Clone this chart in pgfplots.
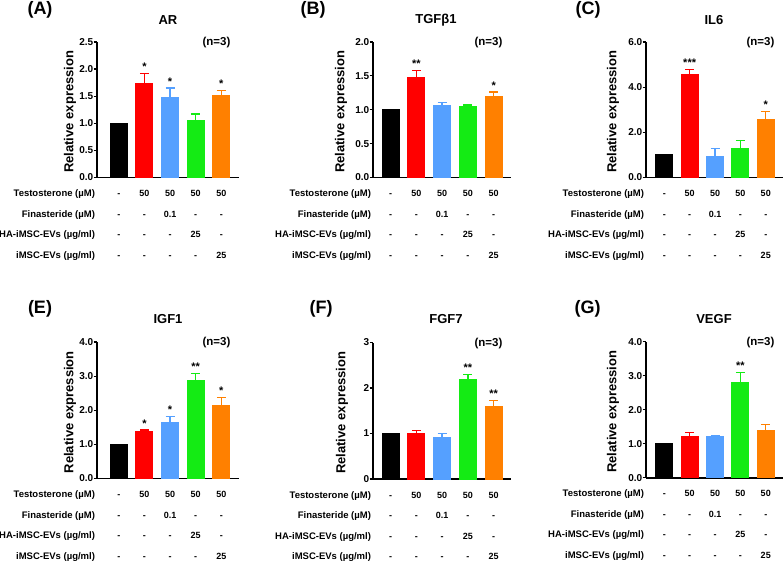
\documentclass[border=0pt]{standalone}
\usepackage{fontspec}
\setmainfont{Liberation Sans}
\usepackage{pgfplots}
\pgfplotsset{compat=1.18}
\definecolor{cK}{RGB}{0,0,0}
\definecolor{cR}{RGB}{255,0,0}
\definecolor{cB}{RGB}{85,160,255}
\definecolor{cG}{RGB}{20,235,20}
\definecolor{cO}{RGB}{255,128,0}
\newcommand{\fs}[1]{\fontsize{#1}{#1}\selectfont\bfseries}
\pgfplotsset{
  panel/.style={
    scale only axis, anchor=south west,
    axis x line*=bottom, axis y line*=left,
    axis line style={-, line width=1.7pt},
    xtick=\empty, ymin=0, clip=false,
    ytick style={line width=1.2pt, black}, tick align=outside, major tick length=3.5pt,
    tick label style={font=\fs{10}},
    yticklabel style={xshift=1.5pt, inner xsep=1.5pt, /pgf/number format/.cd, fixed, fixed zerofill, precision=1, assume math mode=true},
  }
}
\newcommand{\mybar}[4]{\addplot[ybar, bar width=17pt, fill=#1, draw=#1, line width=0pt,
  error bars/.cd, y dir=plus, y explicit,
  error bar style={line width=1.3pt, draw=#1},
  error mark options={line width=1.3pt, draw=#1, mark size=4.5pt, rotate=90}]
  coordinates {(#2,#3) +- (0,#4)};}
\newcommand{\condrow}[7]{%
  \node[font=\fs{9.5}, anchor=base east] at (rel axis cs:0,0) [yshift=#1, xshift=1.5pt] {#2};
  \node[font=\fs{9}, anchor=base] at (axis cs:0,0) [yshift=#1] {#3};
  \node[font=\fs{9}, anchor=base] at (axis cs:1,0) [yshift=#1] {#4};
  \node[font=\fs{9}, anchor=base] at (axis cs:2,0) [yshift=#1] {#5};
  \node[font=\fs{9}, anchor=base] at (axis cs:3,0) [yshift=#1] {#6};
  \node[font=\fs{9}, anchor=base] at (axis cs:4,0) [yshift=#1] {#7};}
\newcommand{\condtable}{%
  \condrow{-19pt}{Testosterone (µM)}{-}{50}{50}{50}{50}
  \condrow{-39.6pt}{Finasteride (µM)}{-}{-}{0.1}{-}{-}
  \condrow{-60.2pt}{HA-iMSC-EVs (µg/ml)}{-}{-}{-}{25}{-}
  \condrow{-80.8pt}{iMSC-EVs (µg/ml)}{-}{-}{-}{-}{25}}
\newcommand{\sig}[3]{\node[font=\fs{11}, anchor=base] at (axis cs:#1,#2) [yshift=3pt] {#3};}
\newcommand{\ylab}[1]{\node[rotate=90, font=\fs{13}] at ([xshift=#1, yshift=-2pt]rel axis cs:0,0.5) {Relative expression};}
\newcommand{\nthree}{\node[font=\fs{11.5}] at (rel axis cs:1,1) [xshift=-22.5pt, yshift=-1pt] {(n=3)};}
\begin{document}
\begin{tikzpicture}
\path[use as bounding box] (0pt,0pt) rectangle (784pt,562pt);

% (A) AR
\begin{axis}[panel, at={(97pt,384.5pt)}, width=142pt, height=135.5pt,
  xmin=-0.85, xmax=4.69, ymax=2.5, ytick={0,0.5,1,1.5,2,2.5}]
\mybar{cK}{0}{1.0}{0}
\mybar{cR}{1}{1.74}{0.18}
\mybar{cB}{2}{1.47}{0.18}
\mybar{cG}{3}{1.05}{0.12}
\mybar{cO}{4}{1.51}{0.10}
\sig{1}{1.92}{*}
\sig{2}{1.65}{*}
\sig{4}{1.61}{*}
\ylab{-27pt}
\nthree
\condtable
\end{axis}

% (B) TGFb1
\begin{axis}[panel, at={(373pt,384.5pt)}, width=138pt, height=135.5pt,
  xmin=-0.68, xmax=4.67, ymax=2.0, ytick={0,0.5,1,1.5,2}]
\mybar{cK}{0}{1.0}{0}
\mybar{cR}{1}{1.48}{0.095}
\mybar{cB}{2}{1.07}{0.04}
\mybar{cG}{3}{1.05}{0.02}
\mybar{cO}{4}{1.19}{0.07}
\sig{1}{1.575}{**}
\sig{4}{1.26}{*}
\ylab{-32pt}
\nthree
\condtable
\end{axis}

% (C) IL6
\begin{axis}[panel, at={(646pt,384.5pt)}, width=137pt, height=135.5pt,
  xmin=-0.72, xmax=4.68, ymax=6.0, ytick={0,2,4,6}]
\mybar{cK}{0}{1.0}{0}
\mybar{cR}{1}{4.58}{0.19}
\mybar{cB}{2}{0.95}{0.34}
\mybar{cG}{3}{1.29}{0.34}
\mybar{cO}{4}{2.59}{0.33}
\sig{1}{4.77}{***}
\sig{4}{2.92}{*}
\ylab{-33pt}
\nthree
\condtable
\end{axis}

% (E) IGF1
\begin{axis}[panel, at={(97pt,83.5pt)}, width=142pt, height=136.5pt,
  xmin=-0.85, xmax=4.69, ymax=4.0, ytick={0,1,2,3,4}]
\mybar{cK}{0}{1.0}{0}
\mybar{cR}{1}{1.37}{0.05}
\mybar{cB}{2}{1.64}{0.18}
\mybar{cG}{3}{2.88}{0.20}
\mybar{cO}{4}{2.14}{0.24}
\sig{1}{1.42}{*}
\sig{2}{1.82}{*}
\sig{3}{3.08}{**}
\sig{4}{2.38}{*}
\ylab{-27pt}
\nthree
\condtable
\end{axis}

% (F) FGF7
\begin{axis}[panel, at={(373pt,83pt)}, width=138pt, height=136.5pt,
  xmin=-0.68, xmax=4.67, ymax=3, ytick={0,1,2,3},
  yticklabel style={/pgf/number format/.cd, fixed, precision=0, assume math mode=true}]
\mybar{cK}{0}{1.0}{0}
\mybar{cR}{1}{0.99}{0.07}
\mybar{cB}{2}{0.91}{0.09}
\mybar{cG}{3}{2.19}{0.10}
\mybar{cO}{4}{1.60}{0.13}
\sig{3}{2.29}{**}
\sig{4}{1.73}{**}
\ylab{-31pt}
\nthree
\condtable
\end{axis}

% (G) VEGF
\begin{axis}[panel, at={(646pt,84.3pt)}, width=137pt, height=136pt,
  xmin=-0.72, xmax=4.68, ymax=4.0, ytick={0,1,2,3,4}]
\mybar{cK}{0}{1.0}{0}
\mybar{cR}{1}{1.22}{0.10}
\mybar{cB}{2}{1.20}{0.03}
\mybar{cG}{3}{2.80}{0.30}
\mybar{cO}{4}{1.39}{0.17}
\sig{3}{3.10}{**}
\ylab{-33pt}
\nthree
\condtable
\end{axis}

% titles and panel letters
\node[font=\fs{13}] at (168pt,542pt) {AR};
\node[font=\fs{13}] at (436pt,542pt) {TGFβ1};
\node[font=\fs{13}] at (714pt,542pt) {IL6};
\node[font=\fs{13}] at (168pt,242.7pt) {IGF1};
\node[font=\fs{13}] at (446pt,242.7pt) {FGF7};
\node[font=\fs{13}] at (714pt,242.7pt) {VEGF};
\node[font=\fs{18}] at (40pt,552pt) {(A)};
\node[font=\fs{18}] at (313pt,552pt) {(B)};
\node[font=\fs{18}] at (588pt,552pt) {(C)};
\node[font=\fs{18}] at (40pt,253pt) {(E)};
\node[font=\fs{18}] at (321pt,253pt) {(F)};
\node[font=\fs{18}] at (587.5pt,253pt) {(G)};
\end{tikzpicture}
\end{document}
